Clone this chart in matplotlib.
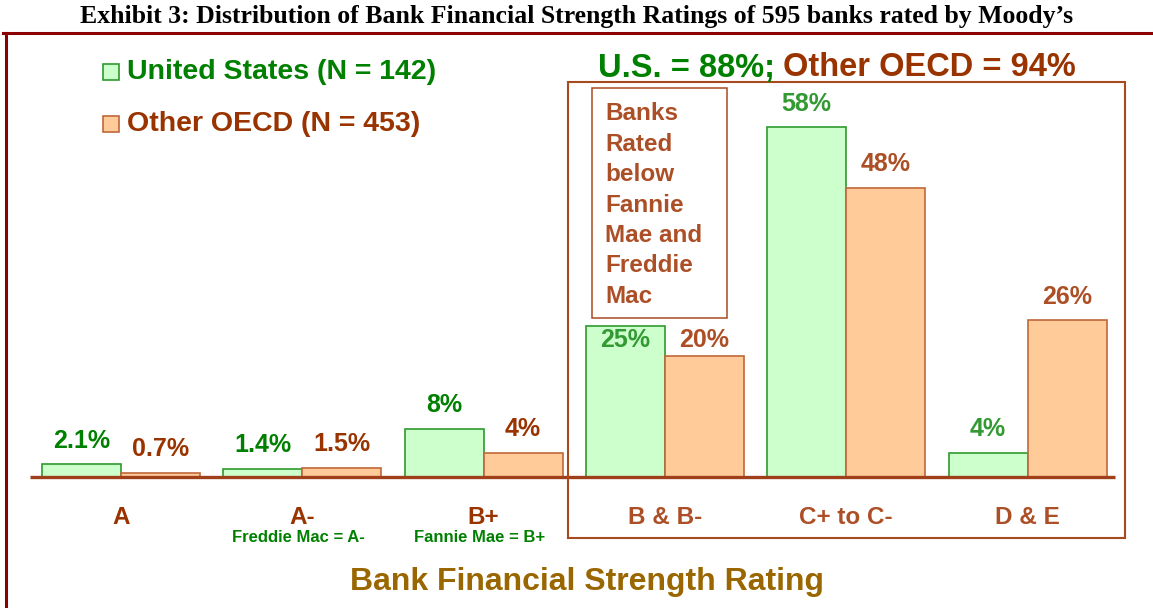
import matplotlib
matplotlib.use("Agg")
import matplotlib.pyplot as plt
from matplotlib.patches import Rectangle
from matplotlib.lines import Line2D

# ---- data ----
categories = ["A", "A-", "B+", "B & B-", "C+ to C-", "D & E"]
sub_labels = ["", "Freddie Mac = A-", "Fannie Mae = B+", "", "", ""]
us_values = [2.1, 1.4, 8, 25, 58, 4]
oecd_values = [0.7, 1.5, 4, 20, 48, 26]
us_labels = ["2.1%", "1.4%", "8%", "25%", "58%", "4%"]
oecd_labels = ["0.7%", "1.5%", "4%", "20%", "48%", "26%"]
title = "Exhibit 3: Distribution of Bank Financial Strength Ratings of 595 banks rated by Moody\u2019s"
legend_us = "United States (N = 142)"
legend_oecd = "Other OECD (N = 453)"
summary_us = "U.S. = 88%;"
summary_oecd = "Other OECD = 94%"
box_text = "Banks\nRated\nbelow\nFannie\nMae and\nFreddie\nMac"
xlabel = "Bank Financial Strength Rating"

# ---- styles ----
W, H = 1153, 608
GREEN = "#008000"
GREEN_IN = "#339933"
BROWN = "#993300"
BROWN_IN = "#AD4F26"
US_FILL, US_EDGE = "#CCFFCC", "#2E9A2E"
OE_FILL, OE_EDGE = "#FFCC99", "#C0683A"
FRAME = "#8B0000"
BOXC = "#A84A20"
FONT = "Liberation Sans"

fig = plt.figure(figsize=(W / 100, H / 100), dpi=100)
fig.patch.set_facecolor("white")

def fx(px):
    return px / W

def fy(py):
    return 1 - py / H

# axes spanning the full figure, data scaled so groups land at right pixels
ax = fig.add_axes([0, 0, 1, 1])
spacing = 181.3
x0 = 121.0
base_px = 477.0
ppu = 6.03
ax.set_xlim(-x0 / spacing, (W - x0) / spacing)
ax.set_ylim(-(H - base_px) / ppu, base_px / ppu)
ax.axis("off")

bw = 79 / spacing
n = len(categories)
xs = list(range(n))
ax.bar([x - bw / 2 for x in xs], us_values, width=bw, color=US_FILL,
       edgecolor=US_EDGE, linewidth=1.2, zorder=2)
ax.bar([x + bw / 2 for x in xs], oecd_values, width=bw, color=OE_FILL,
       edgecolor=OE_EDGE, linewidth=1.2, zorder=2)

# baseline
ax.plot([(30 - x0) / spacing, (1115 - x0) / spacing], [0, 0], color="#A0401A",
        linewidth=2.4, zorder=3, solid_capstyle="butt")

off = 3.9
special_y = {3: 22.7}
for i in xs:
    in_box = i >= 3
    yu = special_y.get(i, us_values[i] + off)
    yo = special_y.get(i, oecd_values[i] + off)
    ax.text(i - bw / 2, yu, us_labels[i], ha="center", va="center",
            fontsize=18, fontweight="bold", family=FONT,
            color=GREEN_IN if in_box else GREEN, zorder=4)
    ax.text(i + bw / 2, yo, oecd_labels[i], ha="center", va="center",
            fontsize=18, fontweight="bold", family=FONT,
            color=BROWN_IN if in_box else BROWN, zorder=4)
    ax.text(i, -(517 - base_px) / ppu, categories[i], ha="center", va="center",
            fontsize=17.5, fontweight="bold", family=FONT,
            color=BROWN_IN if in_box else BROWN)
    if sub_labels[i]:
        ax.text(i - 0.02, -(538 - base_px) / ppu, sub_labels[i], ha="center",
                va="center", fontsize=12, fontweight="bold", family=FONT,
                color=GREEN)

# axis title
fig.text(fx(587), fy(582), xlabel, ha="center", va="center", fontsize=23,
         fontweight="bold", family=FONT, color="#996600")

# chart title
fig.text(fx(577), fy(16), title, ha="center", va="center", fontsize=18.5,
         fontweight="bold", family="Liberation Serif", color="black")

# outer frame
fig.add_artist(Line2D([fx(3), fx(W)], [fy(33), fy(33)], color=FRAME, lw=2.2))
fig.add_artist(Line2D([fx(6), fx(6)], [fy(33), fy(H)], color=FRAME, lw=2.2))

# highlight box
fig.add_artist(Rectangle((fx(568), fy(538)), fx(1125 - 568), (538 - 82) / H,
                         fill=False, edgecolor=BOXC, lw=1.5))
# inner text box
fig.add_artist(Rectangle((fx(592), fy(318)), fx(727 - 592), (318 - 88) / H,
                         fill=False, edgecolor=BOXC, lw=1.1))
fig.text(fx(605), fy(205), box_text, ha="left", va="center", fontsize=17.5,
         fontweight="bold", family=FONT, color=BROWN_IN, linespacing=1.41)

# legend
for py, fill, edge, label, col in [(72, US_FILL, US_EDGE, legend_us, GREEN),
                                   (124, OE_FILL, OE_EDGE, legend_oecd, BROWN)]:
    fig.add_artist(Rectangle((fx(103), fy(py + 8)), fx(16), 16 / H,
                             facecolor=fill, edgecolor=edge, lw=1.2))
    fig.text(fx(127), fy(py), label, ha="left", va="center", fontsize=20.5,
             fontweight="bold", family=FONT, color=col)

# summary line
t1 = fig.text(fx(598), fy(68), summary_us, ha="left", va="center", fontsize=23.5,
              fontweight="bold", family=FONT, color=GREEN)
fig.canvas.draw()
bb = t1.get_window_extent(renderer=fig.canvas.get_renderer())
fig.text(bb.x1 / W + fx(8), fy(68), summary_oecd, ha="left", va="center",
         fontsize=23.5, fontweight="bold", family=FONT, color=BROWN)

fig.savefig("out.png", dpi=100, facecolor="white")
